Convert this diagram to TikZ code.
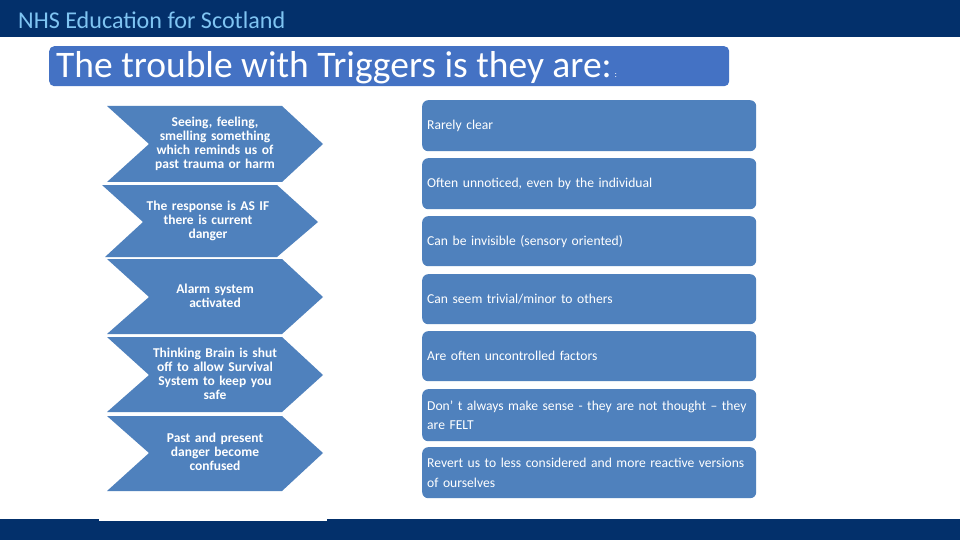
\documentclass[tikz,border=0pt]{standalone}
\usepackage{fontspec}
\setmainfont{Carlito}
\definecolor{navy}{HTML}{03306B}
\definecolor{hdrtext}{HTML}{7FC4F2}
\definecolor{titleblue}{HTML}{4472C4}
\definecolor{boxblue}{HTML}{4F81BD}
\tikzset{
  bar/.style={fill=navy,draw=none},
  chev/.style={fill=boxblue,draw=none},
  chevtext/.style={text=white,font=\fontsize{13.5}{14}\selectfont\bfseries,align=center,text width=150pt,inner sep=0pt},
  rbox/.style={fill=boxblue,draw=none,rounded corners=6pt,minimum width=334pt,anchor=north west,inner sep=0pt,text width=324pt,align=left,text=white,font=\fontsize{13.6}{19.5}\selectfont},
}
\begin{document}
\begin{tikzpicture}[x=1pt,y=-1pt]
\useasboundingbox (0,0) rectangle (960,540);
\fill[white] (0,0) rectangle (960,540);
\fill[bar] (0,0) rectangle (960,37);
\fill[bar] (0,519) rectangle (960,540);
\fill[white] (99,500) rectangle (327,521);
\node[anchor=west,inner sep=0pt,text=hdrtext,font=\fontsize{24.1}{26}\selectfont] (hdr) at (18,20) {NHS Education for Scotland};
\node[anchor=north west,minimum width=680pt,minimum height=40pt,fill=titleblue,rounded corners=5pt,inner sep=0pt] (titlebox) at (49,46) {};
\node[anchor=west,inner sep=0pt,text=white,font=\fontsize{37.5}{40}\selectfont] (title) at (56,68) {The trouble with Triggers is they are:\hspace{3pt}{\fontsize{9}{9}\selectfont:}};
% chevrons
\fill[chev] (107,106) -- (282,106) -- (323,144) -- (282,182) -- (107,182) -- (149,144) -- cycle;
\fill[chev] (102,185) -- (277,185) -- (318,222) -- (277,257) -- (105,257) -- (143,222) -- cycle;
\fill[chev] (107,259) -- (282,259) -- (323,297) -- (282,334) -- (107,334) -- (149,297) -- cycle;
\fill[chev] (107,337) -- (282,337) -- (323,375) -- (282,412) -- (107,412) -- (149,375) -- cycle;
\fill[chev] (107,416) -- (282,416) -- (323,453) -- (282,491) -- (107,491) -- (149,453) -- cycle;
\node[chevtext] (c1) at (215,143.5) {Seeing, feeling,\\smelling something\\which reminds us of\\past trauma or harm};
\node[chevtext] (c2) at (208,221) {The response is AS IF\\there is current\\danger};
\node[chevtext] (c3) at (215,296) {Alarm system\\activated};
\node[chevtext] (c4) at (215,374) {Thinking Brain is shut\\off to allow Survival\\System to keep you\\safe};
\node[chevtext] (c5) at (215,452) {Past and present\\danger become\\confused};
% right boxes
\node[rbox,minimum height=51pt] (r1) at (422,100) {Rarely clear};
\node[rbox,minimum height=51pt] (r2) at (422,158) {Often unnoticed, even by the individual};
\node[rbox,minimum height=50pt] (r3) at (422,216) {Can be invisible (sensory oriented)};
\node[rbox,minimum height=50pt] (r4) at (422,274) {Can seem trivial/minor to others};
\node[rbox,minimum height=50pt] (r5) at (422,331) {Are often uncontrolled factors};
\node[rbox,minimum height=52pt] (r6) at (422,389) {Don’ t always make sense - they are not thought – they\\are FELT};
\node[rbox,minimum height=51pt] (r7) at (422,447) {Revert us to less considered and more reactive versions\\of ourselves};
\end{tikzpicture}
\end{document}
